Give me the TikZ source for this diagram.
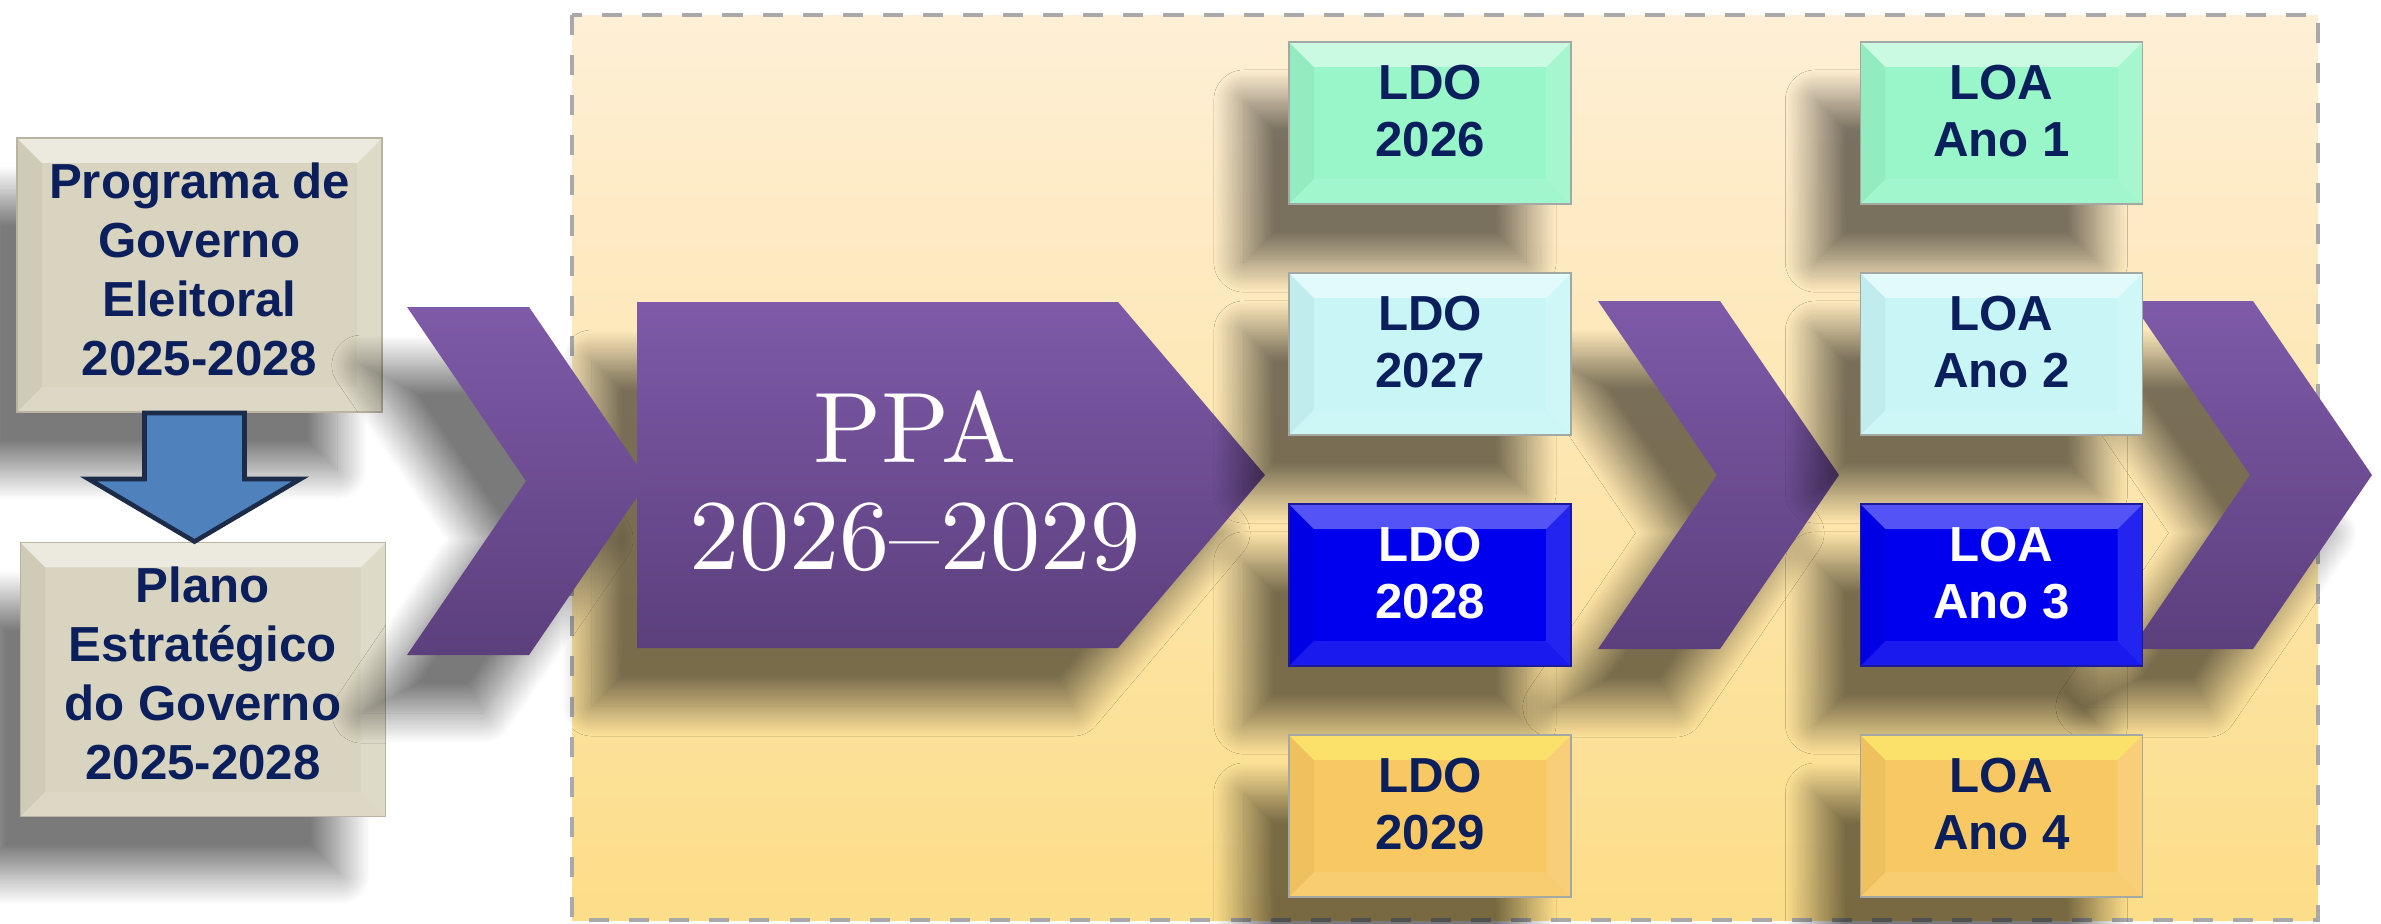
\documentclass[tikz,border=0pt]{standalone}
\usepackage{fontspec}
\newfontfamily\arialish{Liberation Sans}
\newfontfamily\ppafont{lmroman10-regular}[Extension=.otf, Ligatures=TeX]
\usetikzlibrary{calc,shadows.blur}

\definecolor{navytext}{HTML}{0B1F5C}
\definecolor{beigec}{HTML}{D9D4BF}
\definecolor{beigeedge}{HTML}{B9B4A2}
\definecolor{mintc}{HTML}{98F6C8}
\definecolor{icec}{HTML}{C8F6F7}
\definecolor{deepc}{HTML}{0000EE}
\definecolor{deepedge}{HTML}{1A1A9A}
\definecolor{goldc}{HTML}{F8C862}
\definecolor{boxedge}{HTML}{A3A8A3}
\definecolor{chevtop}{HTML}{7E5AA8}
\definecolor{chevbot}{HTML}{5C3F7D}
\definecolor{paneltop}{HTML}{FEEFD6}
\definecolor{panelbot}{HTML}{FCDD88}
\definecolor{paneledge}{HTML}{A9A9A9}
\definecolor{arrowc}{HTML}{4F81BD}
\definecolor{arrowedge}{HTML}{1B2B48}

\tikzset{
  softshadow/.style={blur shadow={shadow xshift=-.45cm, shadow yshift=-.58cm, shadow blur radius=.3cm, shadow blur steps=24, shadow opacity=52}},
  bevelled/.style={path picture={
      \def\bw{.25cm}
      \fill[#1, opacity=.5] (path picture bounding box.north west) -- (path picture bounding box.north east)
        -- ([shift={(-\bw,-\bw)}]path picture bounding box.north east) -- ([shift={(\bw,-\bw)}]path picture bounding box.north west) -- cycle;
      \fill[white, opacity=.14] (path picture bounding box.north east) -- (path picture bounding box.south east)
        -- ([shift={(-\bw,\bw)}]path picture bounding box.south east) -- ([shift={(-\bw,-\bw)}]path picture bounding box.north east) -- cycle;
      \fill[white, opacity=.1] (path picture bounding box.south west) -- (path picture bounding box.south east)
        -- ([shift={(-\bw,\bw)}]path picture bounding box.south east) -- ([shift={(\bw,\bw)}]path picture bounding box.south west) -- cycle;
      \fill[black, opacity=.04] (path picture bounding box.north west) -- (path picture bounding box.south west)
        -- ([shift={(\bw,\bw)}]path picture bounding box.south west) -- ([shift={(\bw,-\bw)}]path picture bounding box.north west) -- cycle;
  }},
  bevelled/.default=white,
  boxbase/.style={rectangle, inner sep=0pt, align=center, text=navytext, draw=boxedge, line width=.5pt, softshadow, bevelled},
  govbox/.style={boxbase, fill=beigec, draw=beigeedge, minimum width=3.65cm, minimum height=2.74cm, text depth=.12cm,
    font={\arialish\bfseries\fontsize{14}{16.8}\selectfont}},
  yearbox/.style={boxbase, minimum width=2.82cm, minimum height=1.62cm, text depth=.24cm,
    font={\arialish\bfseries\fontsize{14}{16.3}\selectfont}},
  mintbox/.style={fill=mintc},
  icebox/.style={fill=icec},
  deepbox/.style={fill=deepc, text=white, draw=deepedge, bevelled={blue!35!white}},
  goldbox/.style={fill=goldc, bevelled={yellow!55!white}},
  chevshade/.style={top color=chevtop, bottom color=chevbot},
  panel/.style={top color=paneltop, bottom color=panelbot, draw=paneledge, line width=1pt, dash pattern=on 5.7pt off 5.7pt},
  downarrow/.style={fill=arrowc, draw=arrowedge, line width=1.3pt, line join=miter},
  ppatext/.style={inner sep=0pt, align=center, text=white, font={\ppafont\fontsize{28.5}{30.4}\selectfont}}
}

\begin{document}
\begin{tikzpicture}[x=0.01cm, y=-0.01cm]
  \useasboundingbox (0,0) rectangle (2381,923);

  % yellow panel round the budget cycle
  \path[panel] (572,15) rectangle (2318,920);

  % left column
  \node[govbox] (prog) at (199.5,275) {Programa de\\Governo\\Eleitoral\\2025-2028};
  \node[govbox] (plano) at (203,679.5) {Plano\\Estratégico\\do Governo\\2025-2028};
  \coordinate (ashaft) at ($(prog.south)+(-5,0)$);
  \filldraw[downarrow] ($(ashaft)+(-50,0)$) -- ($(ashaft)+(50,0)$) -- ($(ashaft)+(50,66)$) -- ($(ashaft)+(106,66)$)
    -- (ashaft |- plano.north) -- ($(ashaft)+(-106,66)$) -- ($(ashaft)+(-50,66)$) -- cycle;

  % PPA
  \path[softshadow, chevshade] (637,302) -- (1118,302) -- (1265,475) -- (1118,648) -- (637,648) -- cycle;
  \node[ppatext] (ppa) at (915,481.5) {PPA\\2026\textendash 2029};

  % chevrons
  \foreach \cx/\cy in {407/307, 1598/301, 2131/301}
    \path[softshadow, chevshade] (\cx,\cy) -- ++(122,0) -- ++(119,174) -- ++(-119,174) -- ++(-122,0) -- ++(119,-174) -- cycle;

  % LDO and LOA
  \foreach \n/\yy/\kind/\yr in {1/123/mintbox/2026, 2/354/icebox/2027, 3/585/deepbox/2028, 4/816/goldbox/2029} {
    \node[yearbox, \kind] (ldo\n) at (1430,\yy) {LDO\\\yr};
    \node[yearbox, \kind] (loa\n) at (2001.5,\yy) {LOA\\Ano \n};
  }
\end{tikzpicture}
\end{document}
